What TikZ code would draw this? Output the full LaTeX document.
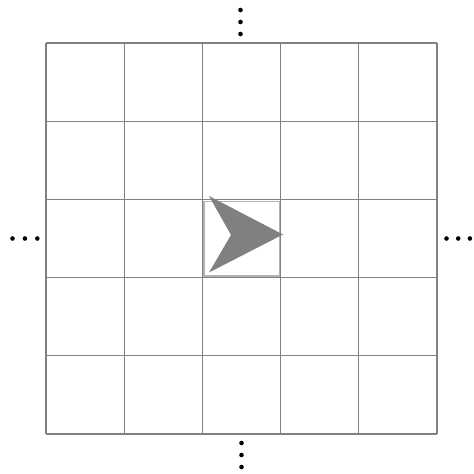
\documentclass[tikz,border=0pt]{standalone}
\begin{document}
\begin{tikzpicture}[x=0.03cm, y=-0.03cm,
          gridline/.style={draw=black!50, line width=1pt},
          centerbox/.style={draw=black!30, line width=0.9pt},
          pointer/.style={fill=black!50},
          ellip/.style={circle, fill=black, inner sep=0pt, minimum size=4.6*0.03cm}]
        \useasboundingbox (0,0) rectangle (474,473);
        % grid of 5x5 cells
        \foreach \i in {0,...,5} {
          \draw[gridline] (46+78.2*\i,43) -- (46+78.2*\i,434);
          \draw[gridline] (46,43+78.2*\i) -- (437,43+78.2*\i);
        }
        % centre cell with the agent
        \draw[centerbox] (204,201.5) rectangle (279.5,276);
        \fill[pointer] (209,196) -- (283,234.5) -- (209,272.5) -- (231,235) -- cycle;
        % continuation dots
        \foreach \k in {0,1,2} {
          \node[ellip] (top\k) at (240.5,10+12*\k) {};
          \node[ellip] (bot\k) at (241.5,443+12*\k) {};
          \node[ellip] (lft\k) at (12.5+12.4*\k,238.5) {};
          \node[ellip] (rgt\k) at (446.5+11.7*\k,238.5) {};
        }
      \end{tikzpicture}
\end{document}
